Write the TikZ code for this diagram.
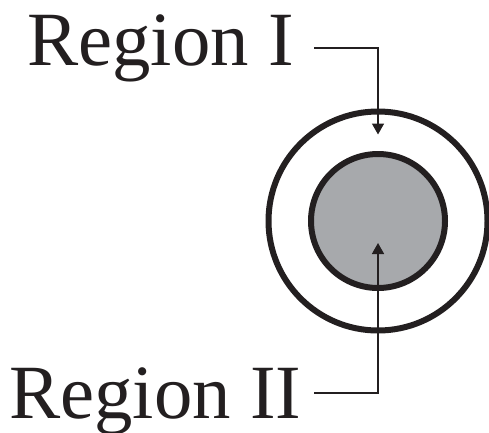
\documentclass[tikz,border=0pt]{standalone}
\usepackage{fontspec}
\setmainfont{Liberation Serif}
\usetikzlibrary{arrows.meta,positioning,calc}
\definecolor{inkblack}{RGB}{35,31,32}
\definecolor{coregray}{RGB}{167,169,172}
\begin{document}
\begin{tikzpicture}[x=1bp, y=1bp,
  ring/.style={circle, draw=inkblack, line width=6bp, inner sep=0pt},
  regionlabel/.style={anchor=base west, inner sep=0pt, text=inkblack,
    font=\fontsize{77}{80}\selectfont},
  pointer/.style={draw=inkblack, line width=1.6bp,
    -{Triangle[length=11bp, width=12bp]}}]
  \useasboundingbox (0,0) rectangle (489,432);
  % ---- shell and core ----
  \node[ring, minimum size=219bp] (shell) at (378,211) {};
  \node[ring, fill=coregray, minimum size=134bp] (core) at (378,211) {};
  % ---- labels ----
  \node[regionlabel] (lblI) at (27,367) {Region I};
  \node[regionlabel] (lblII) at (9,14) {Region II};
  % ---- pointers ----
  \coordinate (startI) at (314,384);
  \coordinate (startII) at (314,39);
  \draw[pointer] (startI) -| ([yshift=-26bp]shell.north);
  \draw[pointer] (startII) -| ([yshift=-22bp]core.center);
\end{tikzpicture}
\end{document}
